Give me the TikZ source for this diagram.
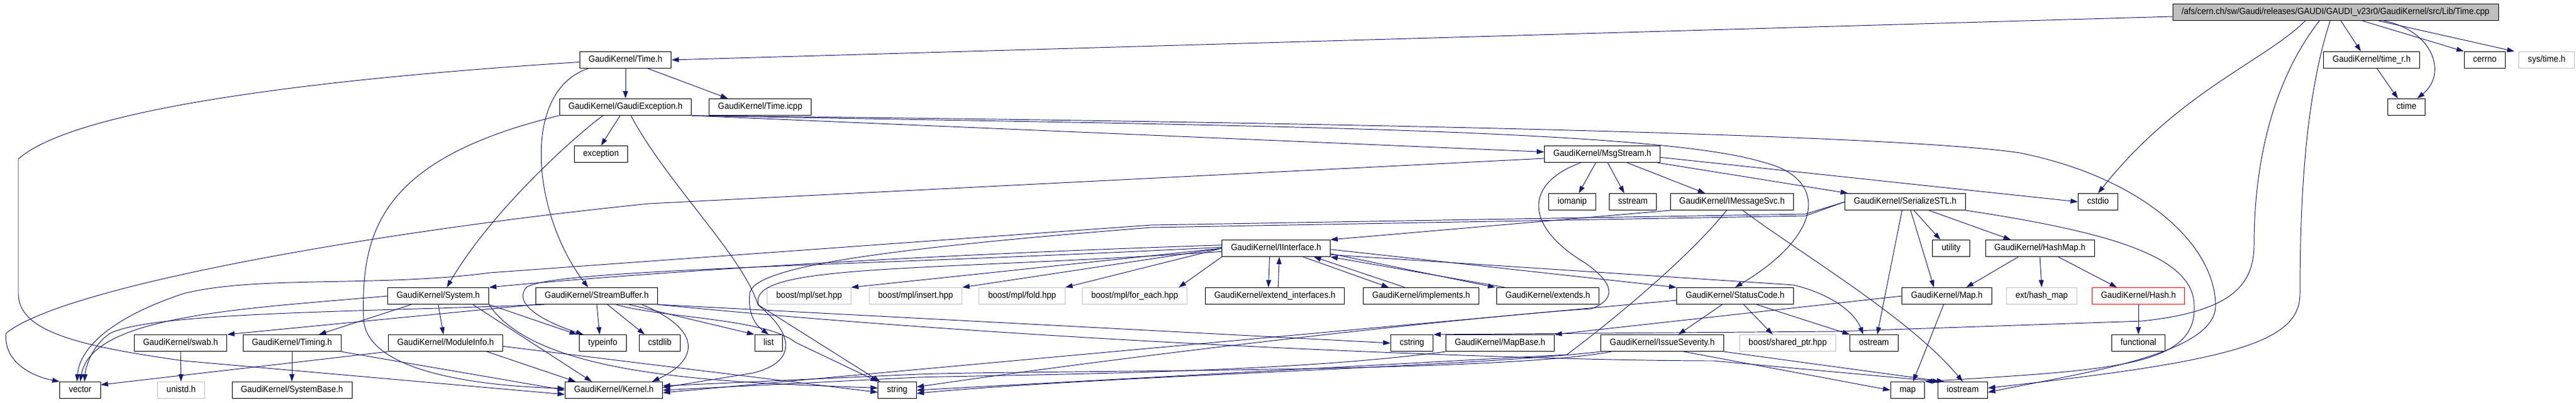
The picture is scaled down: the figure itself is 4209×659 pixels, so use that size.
\documentclass[tikz,border=0pt]{standalone}
\usepackage{fontspec}
\usepackage{tikz}
\usetikzlibrary{arrows.meta}
\newfontfamily\graphsans{Liberation Sans}[FakeStretch=0.92]
\definecolor{edgeblue}{HTML}{191970}
\definecolor{undocgray}{HTML}{BFBFBF}

\begin{document}
\begin{tikzpicture}[x=0.2mm, y=-0.2mm,
    filebox/.style={draw=black, line width=0.55pt, font=\graphsans\fontsize{8.4}{10}\selectfont,
        inner xsep=8.3pt, inner ysep=0pt, minimum height=15.4pt, text height=6.2pt, text depth=1.7pt},
    extbox/.style={filebox, draw=undocgray},
    redbox/.style={filebox, draw=red},
    rootbox/.style={filebox, fill=undocgray},
    dep/.style={draw=edgeblue, line width=0.55pt, -{Triangle[length=2.4mm, width=1.6mm]}}]
    \useasboundingbox (0,0) rectangle (4209,659);

    % Files, row by row
    \node[rootbox] (root) at (3816,20) {/afs/cern.ch/sw/Gaudi/releases/GAUDI/GAUDI\_v23r0/GaudiKernel/src/Lib/Time.cpp};

    \node[filebox] (timeh) at (1022,98) {GaudiKernel/Time.h};
    \node[filebox] (timer) at (3875,98) {GaudiKernel/time\_r.h};
    \node[filebox] (cerrno) at (4060,98) {cerrno};
    \node[extbox] (systime) at (4161,98) {sys/time.h};

    \node[filebox] (gexc) at (1022,175) {GaudiKernel/GaudiException.h};
    \node[filebox] (icpp) at (1242,175) {GaudiKernel/Time.icpp};
    \node[filebox] (ctime) at (3932,175) {ctime};

    \node[filebox] (exception) at (982,252) {exception};
    \node[filebox] (msgs) at (2618,252) {GaudiKernel/MsgStream.h};

    \node[filebox] (iomanip) at (2569,330) {iomanip};
    \node[filebox] (sstream) at (2668,330) {sstream};
    \node[filebox] (imsg) at (2830,330) {GaudiKernel/IMessageSvc.h};
    \node[filebox] (sstl) at (3113,330) {GaudiKernel/SerializeSTL.h};
    \node[filebox] (cstdio) at (3428,330) {cstdio};

    \node[filebox] (iif) at (2085,406) {GaudiKernel/IInterface.h};
    \node[filebox] (utility) at (3188,406) {utility};
    \node[filebox] (hashmap) at (3333,406) {GaudiKernel/HashMap.h};

    \node[filebox] (system) at (716,484) {GaudiKernel/System.h};
    \node[filebox] (sbuf) at (975,484) {GaudiKernel/StreamBuffer.h};
    \node[extbox] (set) at (1322,484) {boost/mpl/set.hpp};
    \node[extbox] (insert) at (1496,484) {boost/mpl/insert.hpp};
    \node[extbox] (fold) at (1670,484) {boost/mpl/fold.hpp};
    \node[extbox] (foreach) at (1854,484) {boost/mpl/for\_each.hpp};
    \node[filebox] (extif) at (2083,484) {GaudiKernel/extend\_interfaces.h};
    \node[filebox] (impl) at (2322,484) {GaudiKernel/implements.h};
    \node[filebox] (ext) at (2529,484) {GaudiKernel/extends.h};
    \node[filebox] (scode) at (2835,484) {GaudiKernel/StatusCode.h};
    \node[filebox] (maph) at (3181,484) {GaudiKernel/Map.h};
    \node[extbox] (exthm) at (3336,484) {ext/hash\_map};
    \node[redbox] (hashh) at (3494,484) {GaudiKernel/Hash.h};

    \node[filebox] (swab) at (295,561) {GaudiKernel/swab.h};
    \node[filebox] (timing) at (477,561) {GaudiKernel/Timing.h};
    \node[filebox] (modinfo) at (728,561) {GaudiKernel/ModuleInfo.h};
    \node[filebox] (typeinfo) at (985,561) {typeinfo};
    \node[filebox] (cstdlib) at (1078,561) {cstdlib};
    \node[filebox] (list) at (1256,561) {list};
    \node[filebox] (cstring) at (2307,561) {cstring};
    \node[filebox] (mapbase) at (2451,561) {GaudiKernel/MapBase.h};
    \node[filebox] (issue) at (2716,561) {GaudiKernel/IssueSeverity.h};
    \node[extbox] (sptr) at (2921,561) {boost/shared\_ptr.hpp};
    \node[filebox] (ostream) at (3062,561) {ostream};
    \node[filebox] (functional) at (3494,561) {functional};

    \node[filebox] (vector) at (131,638) {vector};
    \node[extbox] (unistd) at (296,638) {unistd.h};
    \node[filebox] (sysbase) at (477,638) {GaudiKernel/SystemBase.h};
    \node[filebox] (kernel) at (1003,638) {GaudiKernel/Kernel.h};
    \node[filebox] (string) at (1466,638) {string};
    \node[filebox] (map) at (3117,638) {map};
    \node[filebox] (iostream) at (3207,638) {iostream};

    % Time.cpp
    \draw[dep] ([yshift=-4pt]root.west) -- (timeh.east);
    \draw[dep] ([xshift=5pt]root.south) -- ([xshift=-10pt]timer.north);
    \draw[dep] ([xshift=25pt]root.south) -- (cerrno.north west);
    \draw[dep] ([xshift=40pt]root.south) -- ([xshift=-4pt]systime.north west);
    \draw[dep] ([xshift=45pt]root.south) .. controls (3975,50) and (4000,120) .. ([xshift=10pt]ctime.north);
    \draw[dep] ([xshift=-28pt]root.south) .. controls (3700,100) and (3560,150) .. (cstdio.north);
    \draw[dep] ([xshift=-15pt]root.south) .. controls (3700,150) and (3683,300) .. (3683,400)
        .. controls (3683,470) and (3640,510) .. (3500,525) -- (3000,542) -- (cstring.north east);
    \draw[dep] ([xshift=-5pt]root.south) .. controls (3770,150) and (3758,300) .. (3758,480)
        .. controls (3758,560) and (3650,590) .. ([yshift=2pt]iostream.east);
    \draw[dep] ([xshift=5pt]timer.south) -- ([xshift=-8pt]ctime.north);

    % Time.h
    \draw[dep] (timeh) -- (gexc);
    \draw[dep] ([xshift=-22pt]timeh.south east) -- ([xshift=-30pt]icpp.north);
    \draw[dep] ([xshift=8pt]timeh.south west) .. controls (850,150) and (870,350) .. ([xshift=-8pt]sbuf.north);
    \draw[dep] ([yshift=-2pt]timeh.west) .. controls (500,130) and (120,180) .. (30,260) -- (30,480)
        .. controls (30,540) and (120,565) .. (300,590) -- (kernel.185);

    % GaudiException.h
    \draw[dep] ([xshift=-5pt]gexc.south) -- (exception.north);
    \draw[dep] ([xshift=-21pt]gexc.south) .. controls (930,230) and (800,350) .. ([xshift=8pt]system.north);
    \draw[dep] (gexc.south west) .. controls (620,260) and (590,380) .. (594,520)
        .. controls (596,600) and (750,630) .. (kernel.178);
    \draw[dep] ([xshift=5pt]gexc.south) .. controls (1090,300) and (1215,420) .. (1238,498)
        -- ([xshift=2pt]string.north west);
    \draw[dep] (gexc.south east) -- ([yshift=2pt]msgs.west);
    \draw[dep] (gexc.south east) .. controls (2000,205) and (2700,210) .. (2880,265)
        .. controls (2985,290) and (2985,380) .. (scode.north);
    \draw[dep] (gexc.south east) .. controls (2200,200) and (3100,220) .. (3300,250)
        .. controls (3500,290) and (3620,400) .. (3620,500)
        .. controls (3620,580) and (3400,610) .. ([yshift=-2pt]iostream.east);

    % MsgStream.h
    \draw[dep] ([xshift=-6pt]msgs.south) -- ([xshift=6pt]iomanip.north);
    \draw[dep] ([xshift=5pt]msgs.south) -- ([xshift=-8pt]sstream.north);
    \draw[dep] ([xshift=23pt]msgs.south) -- ([xshift=-25pt]imsg.north);
    \draw[dep] ([xshift=-3pt]msgs.south east) -- ([xshift=3pt]sstl.north west);
    \draw[dep] ([yshift=-3pt]msgs.east) -- (cstdio.west);
    \draw[dep] ([yshift=-4pt]msgs.west) -- (1060,333) .. controls (600,380) and (100,470) .. (10,545)
        .. controls (5,590) and (50,615) .. (vector.north west);
    \draw[dep] ([xshift=-20pt]msgs.south) .. controls (2490,300) and (2490,370) .. (2590,430)
        .. controls (2640,465) and (2640,490) .. (2600,505)
        .. controls (2500,510) and (2000,560) .. ([yshift=3pt]string.east);

    % IMessageSvc.h
    \draw[dep] (imsg.south west) -- (iif.north east);
    \draw[dep] ([xshift=-5pt]imsg.south) .. controls (2760,420) and (2640,520) .. (2560,580) -- (string.east);
    \draw[dep] ([xshift=10pt]imsg.south) .. controls (2950,420) and (3120,520) .. (iostream.north);

    % SerializeSTL.h
    \draw[dep] ([xshift=8pt]sstl.south) -- ([xshift=-10pt]utility.north);
    \draw[dep] ([xshift=22pt]sstl.south) -- ([xshift=-27pt]hashmap.north);
    \draw[dep] ([xshift=5pt]sstl.south) -- ([xshift=-12pt]maph.north);
    \draw[dep] ([xshift=-3pt]sstl.south) -- ([xshift=3pt]ostream.north);
    \draw[dep] (sstl.south east) .. controls (3450,380) and (3585,420) .. (3585,500)
        .. controls (3590,600) and (3450,605) .. (map.north east);
    \draw[dep] (sstl.west) -- (2950,350) -- (1880,368) -- (800,446)
        .. controls (620,470) and (420,450) .. (300,480)
        .. controls (180,520) and (130,570) .. ([xshift=-3pt]vector.north);
    \draw[dep] (sstl.west) -- (2950,353) -- (1880,372) .. controls (1400,410) and (1230,440) .. (1225,480)
        .. controls (1222,510) and (1232,530) .. (list.north);

    % HashMap.h, Hash.h, Map.h, MapBase.h
    \draw[dep] ([xshift=-20pt]hashmap.south) -- ([xshift=18pt]maph.north);
    \draw[dep] (hashmap.south) -- (exthm.north);
    \draw[dep] ([xshift=17pt]hashmap.south) -- ([xshift=-20pt]hashh.north);
    \draw[dep] (hashh) -- (functional);
    \draw[dep] ([xshift=-3pt]maph.south) -- ([xshift=5pt]map.north);
    \draw[dep] (maph.west) -- (mapbase.north east);
    \draw[dep] (mapbase.south west) .. controls (2100,610) and (1700,612) .. (1500,617) -- (kernel.east);

    % IInterface.h
    \foreach \t in {set, insert, fold}
        \draw[dep] (iif.west) -- (\t.north east);
    \draw[dep] (iif.south west) -- ([xshift=-8pt]foreach.north east);
    \draw[dep] ([xshift=-6pt]iif.south) -- ([xshift=-6pt]extif.north);
    \draw[dep] ([xshift=3pt]extif.north) -- ([xshift=3pt]iif.south);
    \draw[dep] ([xshift=25pt]iif.south) -- ([xshift=-30pt]impl.north);
    \draw[dep] ([xshift=-15pt]impl.north) -- ([xshift=35pt]iif.south);
    \draw[dep] ([yshift=3pt]iif.south east) -- ([xshift=-1pt]ext.north west);
    \draw[dep] ([xshift=8pt]ext.north west) -- (iif.south east);
    \draw[dep] ([yshift=-1pt]iif.east) -- (scode.north west);
    \draw[dep] ([yshift=-6pt]iif.east) -- (2930,466) .. controls (2990,480) and (3030,510) .. ([xshift=-10pt]ostream.north);
    \draw[dep] ([yshift=3pt]iif.west) .. controls (1400,420) and (950,455) .. (system.north east);
    \draw[dep] ([yshift=1pt]iif.west) .. controls (1400,435) and (900,440) .. (860,470)
        .. controls (835,500) and (900,530) .. ([xshift=4pt]typeinfo.north west);
    \draw[dep] ([yshift=-3pt]iif.west) .. controls (1500,445) and (1215,430) .. (1240,500)
        .. controls (1290,540) and (1310,590) .. (1230,610) -- (kernel.3);

    % System.h, Timing.h, ModuleInfo.h, swab.h
    \draw[dep] ([xshift=-25pt]system.south) -- ([xshift=25pt]timing.north);
    \draw[dep] (system.south) -- ([xshift=-2pt]modinfo.north);
    \draw[dep] (system.west) .. controls (400,505) and (150,515) .. (vector.north);
    \draw[dep] (system.south east) -- ([xshift=-2pt]typeinfo.north west);
    \draw[dep] ([xshift=-15pt]system.south east) -- ([xshift=25pt]kernel.north west);
    \draw[dep] (system.south east) .. controls (880,620) and (1200,625) .. ([yshift=2pt]string.west);
    \draw[dep] (timing) -- (sysbase);
    \draw[dep] (timing.south east) -- (kernel.west);
    \draw[dep] (modinfo.south west) -- ([yshift=5pt]vector.east);
    \draw[dep] ([yshift=-3pt]modinfo.east) -- ([yshift=-2pt]string.west);
    \draw[dep] ([xshift=-15pt]modinfo.south east) -- ([xshift=10pt]kernel.north west);
    \draw[dep] (swab) -- (unistd);

    % StreamBuffer.h
    \draw[dep] (sbuf.south west) -- (swab.north east);
    \draw[dep] ([xshift=8pt]sbuf.south west) .. controls (600,510) and (250,510) .. (180,545)
        .. controls (150,565) and (140,600) .. ([xshift=4pt]vector.north);
    \draw[dep] (sbuf.south) -- ([xshift=-3pt]typeinfo.north);
    \draw[dep] ([xshift=10pt]sbuf.south) -- ([xshift=-14pt]cstdlib.north);
    \draw[dep] ([xshift=30pt]sbuf.south) -- (list.north west);
    \draw[dep] ([xshift=42pt]sbuf.south) .. controls (1150,540) and (1140,590) .. ([xshift=-10pt]kernel.north east);
    \draw[dep] ([xshift=18pt]sbuf.south) .. controls (1080,520) and (1250,520) .. (1300,560) -- (string.north west);
    \draw[dep] (sbuf.south east) -- (cstring.west);
    \draw[dep] (sbuf.south east) .. controls (1700,560) and (2500,590) .. (2800,590) -- ([xshift=2pt]iostream.north west);

    % StatusCode.h, IssueSeverity.h
    \draw[dep] ([xshift=-12pt]scode.south) -- ([xshift=15pt]issue.north);
    \draw[dep] ([xshift=8pt]scode.south) -- ([xshift=-14pt]sptr.north);
    \draw[dep] ([xshift=20pt]scode.south) -- (ostream.north west);
    \draw[dep] ([yshift=-4pt]scode.west) -- (kernel.-3);
    \draw[dep] ([xshift=10pt]issue.south west) .. controls (2450,610) and (1700,605) .. (1500,612) -- (kernel.5);
    \draw[dep] (issue.south west) .. controls (2400,600) and (1800,615) .. ([yshift=-3pt]string.east);
    \draw[dep] ([xshift=20pt]issue.south) -- (map.west);
    \draw[dep] (issue.south east) -- ([xshift=6pt]iostream.north west);
\end{tikzpicture}
\end{document}
